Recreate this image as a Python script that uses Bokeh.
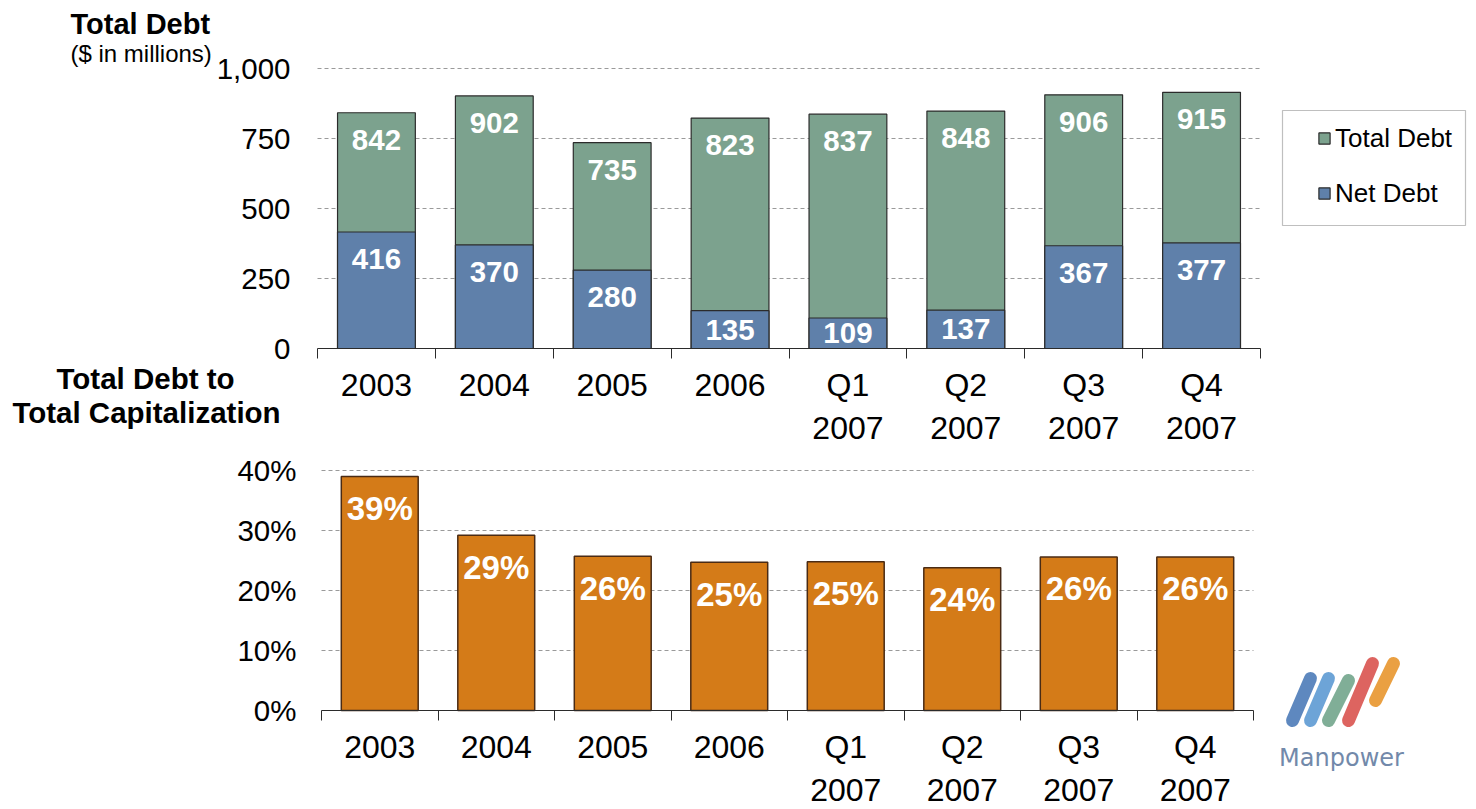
from bokeh.plotting import figure
from bokeh.models import (Range1d, LinearAxis, FixedTicker, Grid, BoxAnnotation,
                          CustomJSTickFormatter, NumeralTickFormatter, PrintfTickFormatter,
                          Legend, LegendItem, Label, ColumnDataSource)
from bokeh.embed import file_html
from bokeh.resources import INLINE
from bokeh.core.properties import value

# ---------------- data ----------------
categories = ["2003", "2004", "2005", "2006", "Q1\n2007", "Q2\n2007", "Q3\n2007", "Q4\n2007"]
total_debt = [842, 902, 735, 823, 837, 848, 906, 915]
net_debt = [416, 370, 280, 135, 109, 137, 367, 377]
debt_to_cap = [39.0, 29.2, 25.7, 24.7, 24.8, 23.8, 25.6, 25.6]
debt_ticks = [0, 250, 500, 750, 1000]
pct_ticks = [0, 10, 20, 30, 40]

# logo decoration geometry (page pixels)
logo_x0 = [1292, 1310, 1328, 1348, 1375]
logo_y0 = [720, 720, 720, 720, 700]
logo_x1 = [1310, 1328, 1348, 1372, 1393]
logo_y1 = [678, 678, 680, 663, 663]
logo_colors = ["#4d7bb8", "#5d9ad3", "#72a58c", "#d9534f", "#e8962e"]

FONT = "Liberation Sans"
GREEN = "#7ca28e"
BLUE = "#5f80aa"
ORANGE = "#d47b18"
EDGE = "#2b2b2b"
GRID = "#9a9a9a"
W, H = 1470, 809
n = len(categories)
xpos = [i + 0.5 for i in range(n)]


def xspan(px0, px1, v0, v1):
    s = (px1 - px0) / (v1 - v0)
    return Range1d(v0 - px0 / s, v0 + (W - px0) / s)


def yspan(px0, px1, v0, v1):
    # px0: page y of v0 (lower value, larger pixel), px1: page y of v1
    s = (px0 - px1) / (v1 - v0)
    return Range1d(v0 + (px0 - H) / s, v0 + px0 / s)


# one canvas, frame = whole page; page-pixel main ranges
p = figure(width=W, height=H, x_range=Range1d(0, W), y_range=Range1d(H, 0),
           output_backend="svg", toolbar_location=None,
           x_axis_location=None, y_axis_location=None,
           min_border=0, outline_line_color=None)
p.grid.visible = False
p.extra_x_ranges = {"tx": xspan(317, 1260, 0, n), "bx": xspan(321, 1253, 0, n)}
p.extra_y_ranges = {"ty": yspan(348, 68, 0, 1000), "by": yspan(710, 470, 0, 40)}


def chart_axes(xr, yr, yticks, yfmt, ystand):
    ya = LinearAxis(x_range_name=xr, y_range_name=yr, fixed_location=0,
                    ticker=FixedTicker(ticks=yticks), formatter=yfmt,
                    bounds=(yticks[0], yticks[-1]),
                    axis_line_color=None, major_tick_line_color=None,
                    minor_tick_line_color=None, major_tick_out=0, major_tick_in=0,
                    major_label_text_font=FONT, major_label_text_font_size="29.5px",
                    major_label_text_color="#000000", major_label_standoff=ystand)
    p.add_layout(ya, "left")
    xa = LinearAxis(x_range_name=xr, y_range_name=yr, fixed_location=0,
                    ticker=FixedTicker(ticks=xpos, minor_ticks=list(range(n + 1))),
                    formatter=CustomJSTickFormatter(args=dict(labels=categories),
                                                    code="return labels[Math.floor(tick)]"),
                    bounds=(0, n),
                    axis_line_color=EDGE, major_tick_line_color=None,
                    major_tick_out=0, major_tick_in=0,
                    minor_tick_line_color=EDGE, minor_tick_out=10, minor_tick_in=0,
                    major_label_text_font=FONT, major_label_text_font_size="32px",
                    major_label_text_color="#000000", major_label_standoff=8)
    p.add_layout(xa, "below")
    g = Grid(dimension=1, x_range_name=xr, y_range_name=yr,
             ticker=FixedTicker(ticks=yticks[1:]), cross_bounds=(0, n),
             grid_line_color=GRID, grid_line_dash="4 3", grid_line_width=1)
    p.add_layout(g, "center")


# ---------------- top chart ----------------
chart_axes("tx", "ty", debt_ticks, NumeralTickFormatter(format="0,0"), 27)
r_total = p.vbar(x=xpos, top=total_debt, width=0.66, fill_color=GREEN,
                 line_color=EDGE, line_width=1.2, x_range_name="tx", y_range_name="ty")
r_net = p.vbar(x=xpos, top=net_debt, width=0.66, fill_color=BLUE,
               line_color=EDGE, line_width=1.2, x_range_name="tx", y_range_name="ty")
total_lbl = ColumnDataSource(dict(x=xpos, y=[max(v - 96, v / 2) for v in total_debt],
                                  t=[str(v) for v in total_debt]))
net_lbl = ColumnDataSource(dict(x=xpos, y=[max(v - 96, v / 2) for v in net_debt],
                                t=[str(v) for v in net_debt]))
for src in (total_lbl, net_lbl):
    p.text(x="x", y="y", text="t", source=src, text_align="center", text_baseline="middle",
           text_color="white", text_font=value(FONT), text_font_style="bold",
           text_font_size="29.5px", x_range_name="tx", y_range_name="ty")

# legend frame (page pixels) and legend entries
p.add_layout(BoxAnnotation(left=1282, right=1465, top=110, bottom=225,
                           fill_color="white", fill_alpha=1,
                           line_color=EDGE, line_width=1.2, level="overlay"))
legend = Legend(items=[LegendItem(label="Total Debt", renderers=[r_total]),
                       LegendItem(label="Net Debt", renderers=[r_net])],
                location=(1317, H - 208.5), orientation="vertical",
                label_text_font=FONT, label_text_font_size="26px",
                label_text_color="#000000",
                glyph_width=14, glyph_height=14, label_height=28,
                label_standoff=4, spacing=24, padding=0,
                border_line_color=None, background_fill_alpha=0)
p.add_layout(legend, "center")

# ---------------- bottom chart ----------------
chart_axes("bx", "by", pct_ticks, PrintfTickFormatter(format="%d%%"), 25)
p.vbar(x=xpos, top=debt_to_cap, width=0.66, fill_color=ORANGE,
       line_color="#4a2b14", line_width=1.5, x_range_name="bx", y_range_name="by")
pct_lbl = ColumnDataSource(dict(x=xpos, y=[v - 5.33 for v in debt_to_cap],
                                t=[f"{round(v)}%" for v in debt_to_cap]))
p.text(x="x", y="y", text="t", source=pct_lbl, text_align="center", text_baseline="middle",
       text_color="white", text_font=value(FONT), text_font_style="bold",
       text_font_size="33px", x_range_name="bx", y_range_name="by")

# ---------------- titles (page pixels) ----------------
for txt, x, y, size, bold, align in [
        ("Total Debt", 70, 23, "29px", True, "left"),
        ("($ in millions)", 70, 53, "24px", False, "left"),
        ("Total Debt to", 145, 378, "29.5px", True, "center"),
        ("Total Capitalization", 146, 412, "29.5px", True, "center")]:
    p.add_layout(Label(x=x, y=y, text=txt, text_font=FONT, text_font_size=size,
                       text_font_style="bold" if bold else "normal",
                       text_baseline="middle", text_align=align, text_color="#000000"))

# ---------------- logo ----------------
p.segment(x0=logo_x0, y0=logo_y0, x1=logo_x1, y1=logo_y1, line_color=logo_colors,
          line_width=13, line_cap="round", line_alpha=0.9)
p.text(x=[1341], y=[757], text=["Manpower"], text_align="center", text_baseline="middle",
       text_color="#7289aa", text_font=value("DejaVu Sans"), text_font_size="24px")

open("out.html", "w").write(file_html(p, INLINE))
